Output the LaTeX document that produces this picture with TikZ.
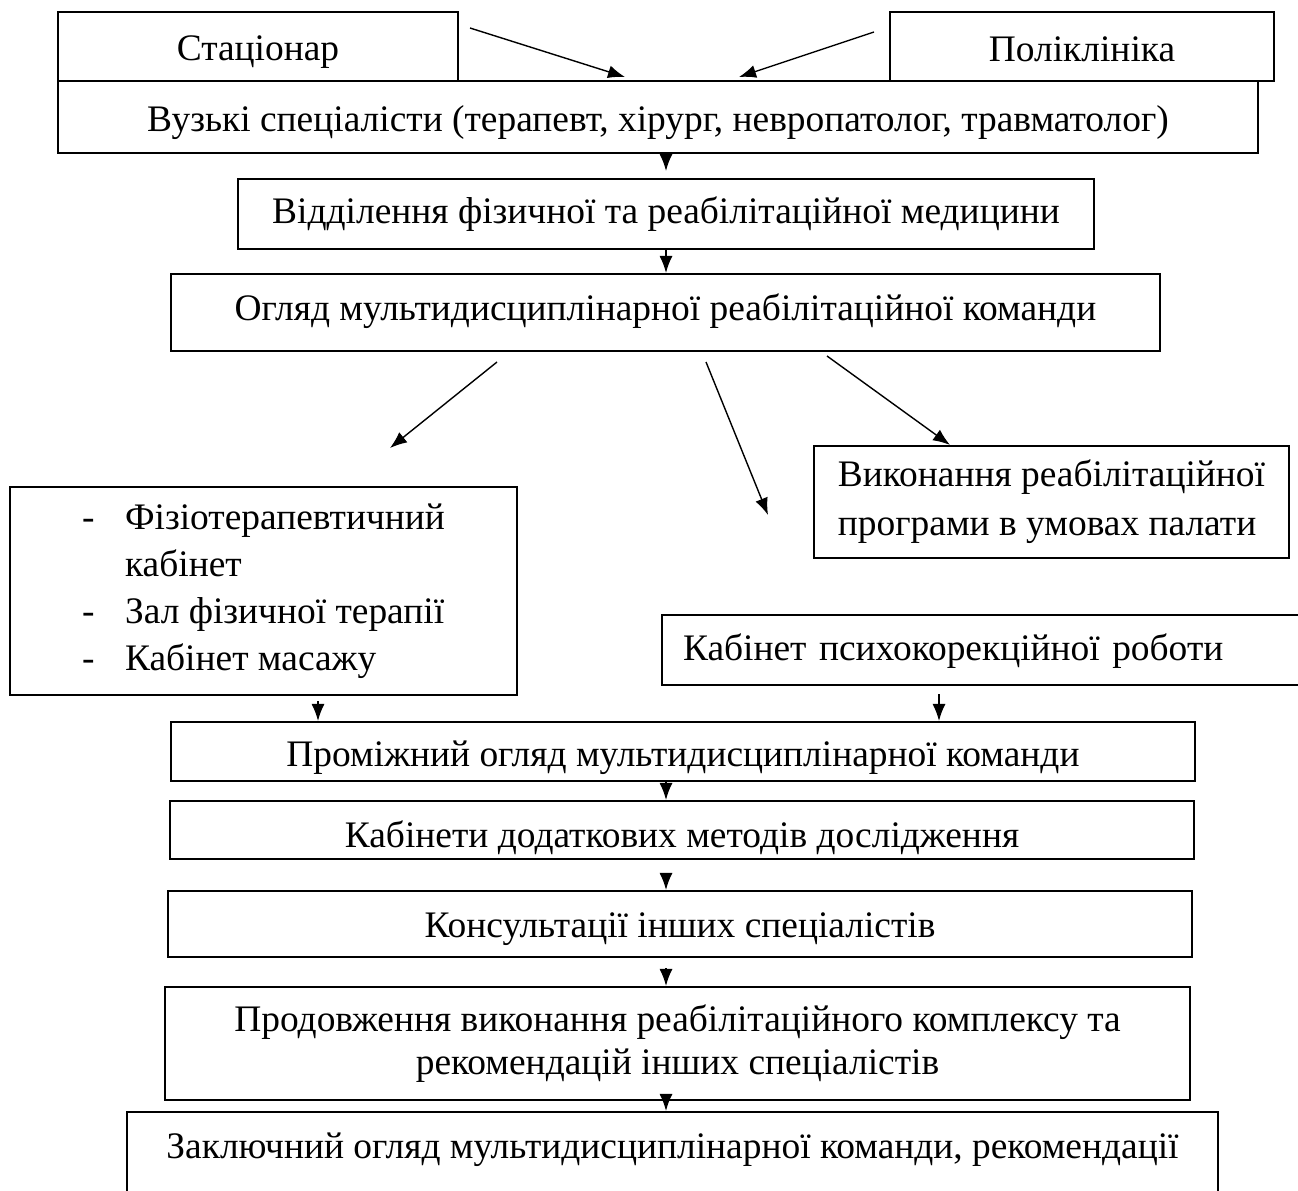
\documentclass[tikz,border=0pt]{standalone}
\usepackage{fontspec}
\setmainfont{Liberation Serif}
\usetikzlibrary{arrows.meta,calc}

\begin{document}
\begin{tikzpicture}[x=0.02cm, y=-0.02cm,
    >={Latex[length=0.34cm,width=0.26cm]},
    box/.style={draw, line width=1.2pt, inner sep=0pt, align=center,
        font=\fontsize{21.3}{25}\selectfont},
    base/.style={text height=0.8cm, text depth=#1},
    arr/.style={->, line width=0.8pt}]

            \clip (0,0) rectangle (1298,1190);

            \node (stac) [box, base=0.24cm, minimum width=8cm, minimum height=1.38cm] at (258,46.5) {Стаціонар};
            \node (poli) [box, base=0.2cm, minimum width=7.68cm, minimum height=1.38cm] at (1082,46.5) {Поліклініка};
            \node (vuzki) [box, base=0.2cm, minimum width=24cm, minimum height=1.44cm] at (658,117) {Вузькі спеціалісти (терапевт, хірург, невропатолог, травматолог)};
            \node (viddil) [box, base=0.44cm, minimum width=17.12cm, minimum height=1.4cm] at (666,214) {Відділення фізичної та реабілітаційної медицини};
            \node (ogliad) [box, base=0.5cm, minimum width=19.78cm, minimum height=1.54cm] at (665.5,312.5) {Огляд мультидисциплінарної реабілітаційної команди};
            \node (kabs) [box, align=left, minimum width=10.14cm, minimum height=4.16cm,
                font=\fontsize{21.3}{26.7}\selectfont] at (263.5,591)
                {\makebox[0.86cm][l]{-}Фізіотерапевтичний\\ \hspace*{0.86cm}кабінет\\
                 \makebox[0.86cm][l]{-}Зал фізичної терапії\\ \makebox[0.86cm][l]{-}Кабінет масажу};
            \node (palata) [box, align=left, minimum width=9.5cm, minimum height=2.24cm,
                font=\fontsize{21.3}{27.9}\selectfont] at (1051.5,502)
                {Виконання реабілітаційної\\програми в умовах палати};
            \node (psycho) [box, base=0.4cm, align=left, text width=12.32cm, inner xsep=0.42cm, minimum height=1.4cm] at (991,650) {Кабінет психокорекційної роботи};
            \node (promizh) [box, base=0.2cm, minimum width=20.48cm, minimum height=1.18cm] at (683,751.5) {Проміжний огляд мультидисциплінарної команди};
            \node (dodatk) [box, base=0.12cm, minimum width=20.48cm, minimum height=1.16cm] at (682,830) {Кабінети додаткових методів дослідження};
            \node (konsult) [box, base=0.28cm, minimum width=20.48cm, minimum height=1.32cm] at (680,924) {Консультації інших спеціалістів};
            \node (prodov) [box, minimum width=20.5cm, minimum height=2.26cm,
                font=\fontsize{21.3}{24.4}\selectfont] at (677.5,1043.5)
                {Продовження виконання реабілітаційного комплексу та\\рекомендацій інших спеціалістів};
            \node (zakl) [box, base=0.96cm, minimum width=21.82cm, minimum height=2cm] at (672.5,1162) {Заключний огляд мультидисциплінарної команди, рекомендації};

            % free ends of the slanted arrows
            \coordinate (stacA) at (470,28);
            \coordinate (stacB) at (625,77);
            \coordinate (poliA) at (874,32);
            \coordinate (poliB) at (739,77);
            \coordinate (ogl1) at (497,362);
            \coordinate (ogl1B) at (390,448);
            \coordinate (ogl2) at (706,362);
            \coordinate (ogl2B) at (768,515);
            \coordinate (ogl3) at (827,356);
            \coordinate (ogl3B) at (950,0);
            \coordinate (axis) at (666,0);
            \coordinate (kabsX) at (318,0);
            \coordinate (psychoX) at (939,0);

            \draw[arr] (stacA) -- (stacB);
            \draw[arr] (poliA) -- (poliB);
            \draw[arr, shorten >=0.14cm] (vuzki.south -| axis) -- (viddil.north -| axis);
            \draw[arr] (viddil.south -| axis) -- (ogliad.north -| axis);
            \draw[arr] (ogl1) -- (ogl1B);
            \draw[arr] (ogl2) -- (ogl2B);
            \draw[arr] (ogl3) -- (palata.north -| ogl3B);
            \draw[arr, shorten <=0.1cm] (kabs.south -| kabsX) -- (promizh.north -| kabsX);
            \draw[arr, shorten <=0.16cm] (psycho.south -| psychoX) -- (promizh.north -| psychoX);
            \draw[arr] (promizh.south -| axis) -- (dodatk.north -| axis);
            \draw[arr, shorten <=0.28cm] (dodatk.south -| axis) -- (konsult.north -| axis);
            \draw[arr, shorten <=0.2cm] (konsult.south -| axis) -- (prodov.north -| axis);
            \draw[arr] (prodov.south -| axis) -- (zakl.north -| axis);

        \end{tikzpicture}
\end{document}
